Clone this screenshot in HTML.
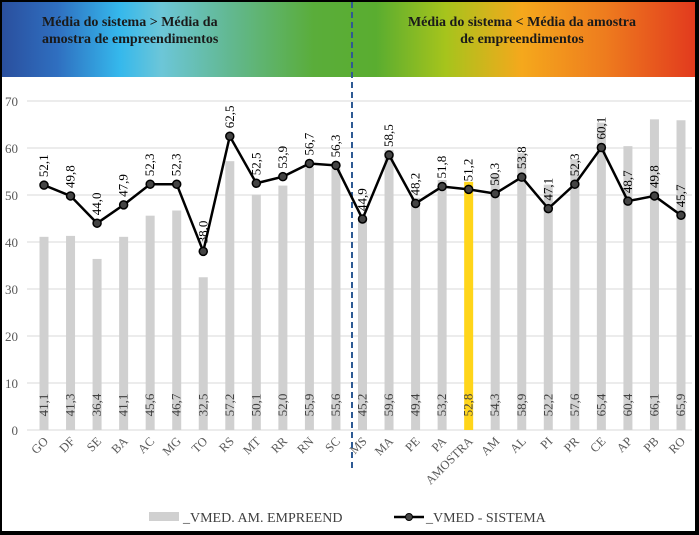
<!DOCTYPE html>
<html><head><meta charset="utf-8"><style>
body{margin:0;background:#000;}
#wrap{position:absolute;left:2px;top:2px;width:693px;height:529px;background:#fff;overflow:hidden}
#hdr{position:absolute;left:0;top:0;width:693px;height:75px;background:linear-gradient(90deg,#2a4f9e 0%,#2f6fc0 8%,#35b8ec 17%,#6cc6d8 23%,#62b890 33%,#5aad3a 45%,#5aad30 54%,#a6c41c 64%,#f5a81c 75%,#ee7c1e 87%,#e23a1e 100%)}
.ht{position:absolute;font-family:"Liberation Serif",serif;font-weight:bold;font-size:14px;color:#1a1a1a;text-align:center;line-height:17px}
svg text{font-family:"Liberation Serif",serif}
</style></head><body>
<div id="wrap">
<div id="hdr">
<div class="ht" style="left:40px;top:12px;width:240px;text-align:left">Média do sistema &gt; Média da<br>amostra de empreendimentos</div>
<div class="ht" style="left:390px;top:12px;width:260px">Média do sistema &lt; Média da amostra<br>de empreendimentos</div>
</div>
<svg id="c" width="693" height="529" style="position:absolute;left:0;top:0"></svg>
</div>
<script>
const categories=["GO","DF","SE","BA","AC","MG","TO","RS","MT","RR","RN","SC","MS","MA","PE","PA","AMOSTRA","AM","AL","PI","PR","CE","AP","PB","RO"];
const barValues=[41.1,41.3,36.4,41.1,45.6,46.7,32.5,57.2,50.1,52.0,55.9,55.6,45.2,59.6,49.4,53.2,52.8,54.3,58.9,52.2,57.6,65.4,60.4,66.1,65.9];
const lineValues=[52.1,49.8,44.0,47.9,52.3,52.3,38.0,62.5,52.5,53.9,56.7,56.3,44.9,58.5,48.2,51.8,51.2,50.3,53.8,47.1,52.3,60.1,48.7,49.8,45.7];
const yTicks=[0,10,20,30,40,50,60,70];
const NS='http://www.w3.org/2000/svg';
const svg=document.getElementById('c');
const x0=42,x1=679,yb=428,yt=99;
const n=categories.length;
const X=i=>x0+i*(x1-x0)/(n-1);
const Y=v=>yb-(v/70)*(yb-yt);
const fmt=v=>v.toFixed(1).replace('.',',');
function mk(t,a){const e=document.createElementNS(NS,t);for(const k in a)e.setAttribute(k,a[k]);svg.appendChild(e);return e;}
yTicks.forEach(t=>{
 const g=mk('line',{x1:25,x2:690,y1:Y(t),y2:Y(t),stroke:'#d9d9d9','stroke-width':1});
 
 
 const l=mk('text',{x:16,y:Y(t)+5,'text-anchor':'end','font-size':13,fill:'#595959','font-family':'Liberation Sans'});
 l.textContent=t;
 
 
});
categories.forEach((c,i)=>{
 const b=mk('rect',{x:X(i)-4.5,y:Y(barValues[i]),width:9,height:yb-Y(barValues[i]),fill:c==='AMOSTRA'?'#ffd51a':'#d0d0d0'});
 
 
 const t=mk('text',{x:0,y:0,'font-size':13,fill:'#404040','text-anchor':'middle',transform:`translate(${X(i)+4},403) rotate(-90)`});
 t.textContent=fmt(barValues[i]);
 
 
 const xl=mk('text',{x:0,y:0,'font-size':12.5,fill:'#595959','text-anchor':'end',transform:`translate(${X(i)+5},440) rotate(-45)`});
 xl.textContent=c;
 
 
});
const dl=mk('line',{x1:350,x2:350,y1:0,y2:468,stroke:'#2e5a94','stroke-width':2,'stroke-dasharray':'6,4'});


const pl=mk('polyline',{points:lineValues.map((v,i)=>X(i)+','+Y(v)).join(' '),fill:'none',stroke:'#000','stroke-width':2.5});


lineValues.forEach((v,i)=>{
 const c=mk('circle',{cx:X(i),cy:Y(v),r:4,fill:'#444',stroke:'#000','stroke-width':1.5});
 
 
 const t=mk('text',{x:0,y:0,'font-size':13,fill:'#000','text-anchor':'start',transform:`translate(${X(i)+4},${Y(v)-8}) rotate(-90)`});
 t.textContent=fmt(v);
 
 
});
const lg1=mk('rect',{x:147,y:510,width:30,height:9,fill:'#d0d0d0'});


const lt1=mk('text',{x:181,y:520,'font-size':14,fill:'#404040'});lt1.textContent='_VMED. AM. EMPREEND';


const lg2=mk('line',{x1:392,x2:422,y1:515,y2:515,stroke:'#000','stroke-width':2.5});


const lc=mk('circle',{cx:407,cy:515,r:3.5,fill:'#444',stroke:'#000'});


const lt2=mk('text',{x:424,y:520,'font-size':14,fill:'#404040'});lt2.textContent='_VMED - SISTEMA';


</script>
</body></html>
